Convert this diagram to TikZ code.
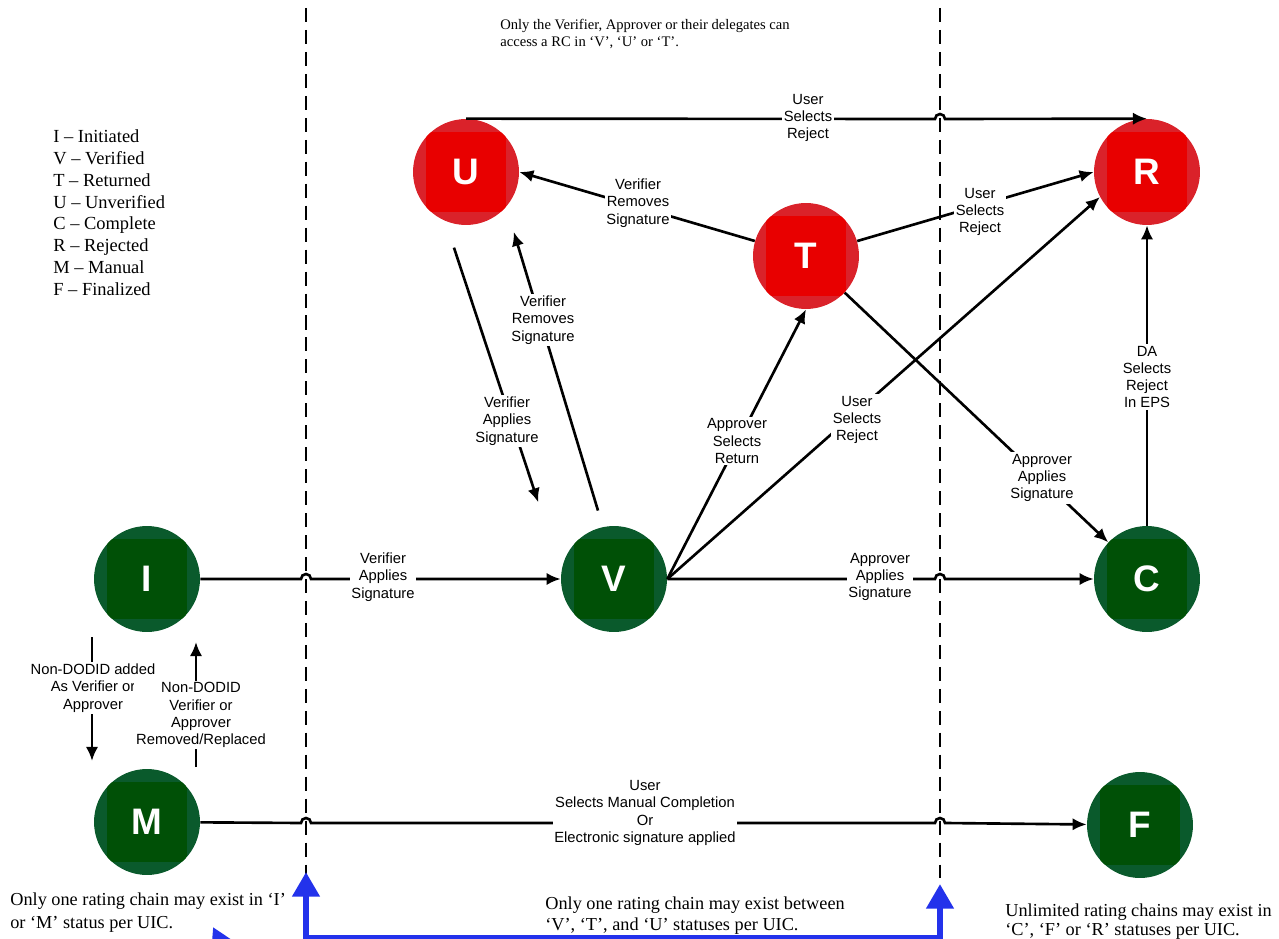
\documentclass[tikz,border=0pt]{standalone}
\usepackage{fontspec}
\setmainfont{Liberation Serif}
\setsansfont{Liberation Sans}
\usetikzlibrary{arrows.meta}

\definecolor{redring}{RGB}{218,34,42}
\definecolor{redcore}{RGB}{232,0,0}
\definecolor{greenring}{RGB}{10,90,44}
\definecolor{greencore}{RGB}{0,80,6}
\definecolor{markblue}{RGB}{35,50,235}

\begin{document}
\begin{tikzpicture}[x=0.02cm,y=0.02cm,
    state/.style={circle,minimum size=2.12cm,inner sep=0pt,text=white,
        font=\sffamily\bfseries\fontsize{21}{21}\selectfont},
    core/.style={path picture={\fill[#1]
        ([shift={(-0.8cm,-0.8cm)}]path picture bounding box.center) rectangle
        ([shift={(0.8cm,0.8cm)}]path picture bounding box.center);}},
    redstate/.style={state,fill=redring,core=redcore},
    greenstate/.style={state,fill=greenring,core=greencore},
    flow/.style={line width=1.5pt,-{Latex[length=8pt,width=7pt]}},
    divider/.style={line width=1.1pt,dash pattern=on 8pt off 4.5pt},
    marker/.style={markblue,line width=3.5pt,-{Triangle[length=14pt,width=15pt]}},
    lbl/.style={fill=white,inner sep=1pt,align=center,
        font=\sffamily\fontsize{8.4}{9.8}\selectfont},
    note/.style={anchor=north west,inner sep=0pt,align=left,
        font=\fontsize{10.4}{13.2}\selectfont}]

    \useasboundingbox (0,0) rectangle (1279,-939);

    % dashed dividers
    \coordinate (divAtop) at (306,-8);
    \coordinate (divAbot) at (306,-939);
    \coordinate (divBtop) at (940,-8);
    \coordinate (divBbot) at (940,-878);
    \draw[divider] (divAtop) -- (divAbot);
    \draw[divider] (divBtop) -- (divBbot);

    % states
    \node[redstate] (U) at (466,-172) {U};
    \node[redstate] (R) at (1147,-172) {R};
    \node[redstate] (T) at (806,-256) {T};
    \node[greenstate] (I) at (147,-579) {I};
    \node[greenstate] (V) at (614,-579) {V};
    \node[greenstate] (C) at (1147,-579) {C};
    \node[greenstate] (M) at (147,-822) {M};
    \node[greenstate] (F) at (1140,-825) {F};

    % crossing points on the dividers
    \coordinate (jIV) at (306,-579);
    \coordinate (jVC) at (940,-579);
    \coordinate (jMFa) at (306,-823);
    \coordinate (jMFb) at (940,-823);
    \coordinate (jUR) at (940,-119);

    % free ends of the I/M arrows
    \coordinate (imTop) at (92,-637);
    \coordinate (imBot) at (92,-761);
    \coordinate (miBot) at (196,-767);
    \coordinate (miTop) at (196,-642);

    % connectors
    \draw[flow] (I) -- ([xshift=-0.1cm]jIV) arc[start angle=180,end angle=0,radius=0.1cm] -- (V);
    \draw[flow] (V) -- ([xshift=-0.1cm]jVC) arc[start angle=180,end angle=0,radius=0.1cm] -- (C);
    \draw[flow] (M) -- ([xshift=-0.1cm]jMFa) arc[start angle=180,end angle=0,radius=0.1cm]
        -- ([xshift=-0.1cm]jMFb) arc[start angle=180,end angle=0,radius=0.1cm] -- (F);
    \draw[flow] (U.north) -- ([xshift=-0.1cm]jUR) arc[start angle=180,end angle=0,radius=0.1cm] -- (R.north);
    \draw[flow] (T) -- (U.east);
    \draw[flow] (T) -- (R.west);
    \draw[flow] (T) -- (C);
    \draw[flow] (V.east) -- (T.south);
    \draw[flow] (V.east) -- (R.208);
    \draw[flow,shorten <=0.34cm,shorten >=0.52cm] (V.102) -- (U.-41);
    \draw[flow,shorten <=0.56cm,shorten >=1.46cm] (U.247) -- (V.172);
    \draw[flow] (C.north) -- (R.south);
    \draw[flow] (imTop) -- (imBot);
    \draw[flow] (miBot) -- (miTop);

    % connector labels
    \node[lbl] (lblIV) at (383,-577) {Verifier\\Applies\\Signature};
    \node[lbl] (lblVC) at (880,-577) {Approver\\Applies\\Signature};
    \node[lbl] (lblMF) at (645,-813) {User\\Selects Manual Completion\\Or\\Electronic signature applied};
    \node[lbl] (lblIM) at (93,-688) {Non-DODID added\\As Verifier or\\Approver};
    \node[lbl] (lblMI) at (201,-715) {Non-DODID\\Verifier or\\Approver\\Removed/Replaced};
    \node[lbl] (lblUR) at (808,-118) {User\\Selects\\Reject};
    \node[lbl] (lblTU) at (638,-203) {Verifier\\Removes\\Signature};
    \node[lbl] (lblTR) at (980,-212) {User\\Selects\\Reject};
    \node[lbl] (lblTC) at (1042,-478) {Approver\\Applies\\Signature};
    \node[lbl] (lblVT) at (737,-441) {Approver\\Selects\\Return};
    \node[lbl] (lblVR) at (857,-420) {User\\Selects\\Reject};
    \node[lbl] (lblUV) at (507,-421) {Verifier\\Applies\\Signature};
    \node[lbl] (lblVU) at (543,-320) {Verifier\\Removes\\Signature};
    \node[lbl] (lblCR) at (1147,-377) {DA\\Selects\\Reject\\In EPS};

    % notes and legend
    \node[note,font=\fontsize{8.3}{9.8}\selectfont] (topNote) at (500,-19)
        {Only the Verifier, Approver or their delegates can\\access a RC in ‘V’, ‘U’ or ‘T’.};
    \node[note,font=\fontsize{10.5}{12.5}\selectfont] (legend) at (53,-129)
        {I -- Initiated\\V -- Verified\\T -- Returned\\U -- Unverified\\C -- Complete\\R -- Rejected\\M -- Manual\\F -- Finalized};
    \node[note] (noteLeft) at (10,-892)
        {Only one rating chain may exist in ‘I’\\or ‘M’ status per UIC.};
    \node[note,font=\fontsize{10.4}{12.4}\selectfont] (noteMid) at (545,-896)
        {Only one rating chain may exist between\\‘V’, ‘T’, and ‘U’ statuses per UIC.};
    \node[note,font=\fontsize{10.4}{11}\selectfont] (noteRight) at (1005,-903)
        {Unlimited rating chains may exist in\\‘C’, ‘F’ or ‘R’ statuses per UIC.};

    % blue markers
    \begin{scope}
        \clip (0,0) rectangle (1279,-939);
        \coordinate (blueA) at (306,-960);
        \coordinate (blueAtip) at (306,-872);
        \coordinate (blueB) at (940,-960);
        \coordinate (blueBtip) at (940,-884);
        \coordinate (blueC) at (241,-985);
        \coordinate (blueCtip) at (213,-927);
        \coordinate (blueL) at (306,-937);
        \coordinate (blueR) at (940,-937);
        \draw[markblue,line width=2pt] (blueL) -- (blueR);
        \draw[marker] (blueA) -- (blueAtip);
        \draw[marker] (blueB) -- (blueBtip);
        \draw[marker] (blueC) -- (blueCtip);
    \end{scope}
\end{tikzpicture}
\end{document}
